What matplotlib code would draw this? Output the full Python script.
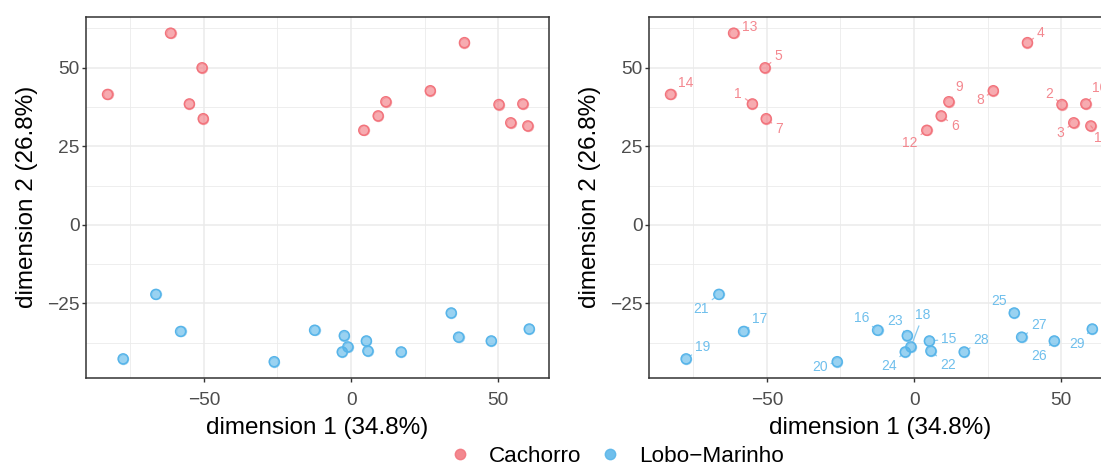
import matplotlib.pyplot as plt
from matplotlib.ticker import MultipleLocator
from matplotlib.lines import Line2D

plt.rcParams['font.family'] = ['Liberation Sans', 'DejaVu Sans']
plt.rcParams['axes.unicode_minus'] = True

# MDS coordinates, individuals 1-14 (Cachorro) and 15-29 (Lobo-Marinho)
ids_cachorro = [1, 2, 3, 4, 5, 6, 7, 8, 9, 10, 11, 12, 13, 14]
dim1_cachorro = [-54.9, 50.2, 54.2, 38.5, -50.6, 9.2, -50.2, 26.9, 11.8, 58.3, 60.0, 4.3, -61.3, -82.7]
dim2_cachorro = [38.5, 38.3, 32.5, 58.0, 50.0, 34.7, 33.8, 42.7, 39.2, 38.5, 31.5, 30.1, 61.0, 41.5]

ids_lobo = [15, 16, 17, 18, 19, 20, 21, 22, 23, 24, 25, 26, 27, 28, 29]
dim1_lobo = [5.2, -12.4, -57.9, -1.1, -77.4, -26.1, -66.3, 5.7, -2.3, -3.0, 34.0, 47.6, 36.5, 17.0, 60.5]
dim2_lobo = [-36.9, -33.5, -33.9, -38.8, -42.6, -43.5, -22.1, -40.1, -35.2, -40.4, -28.0, -36.9, -35.7, -40.4, -33.1]

# where each id label sits relative to its point (repel-style offsets)
label_offset = {
    1: (-4.8, 3.3), 2: (-4.3, 3.5), 3: (-4.4, -3.2), 4: (4.5, 3.0), 5: (4.4, 3.7),
    6: (4.6, -3.2), 7: (4.3, -3.2), 8: (-4.5, -3.1), 9: (3.5, 4.6), 10: (4.8, 5.0),
    11: (3.5, -4.0), 12: (-5.7, -4.0), 13: (5.5, 1.9), 14: (5.1, 3.7),
    15: (6.6, 0.5), 16: (-5.5, 3.8), 17: (5.5, 4.0), 18: (4.1, 10.0), 19: (5.6, 3.7),
    20: (-5.9, -1.8), 21: (-6.0, -4.5), 22: (5.7, -4.6), 23: (-4.3, 4.7), 24: (-5.6, -4.6),
    25: (-5.3, 3.8), 26: (-5.3, -4.7), 27: (5.8, 3.9), 28: (5.8, 3.7), 29: (-5.3, -4.7),
}

groups = ['Cachorro', 'Lobo\u2212Marinho']
colors = ['#F2737C', '#56B4E9']

W, H = 1101, 466
fig = plt.figure(figsize=(W / 100, H / 100), dpi=100)
ax1 = fig.add_axes([86 / W, 88 / H, 463 / W, 361.5 / H])
ax2 = fig.add_axes([649 / W, 88 / H, 463 / W, 361.5 / H])

series = [
    (ids_cachorro, dim1_cachorro, dim2_cachorro, colors[0]),
    (ids_lobo, dim1_lobo, dim2_lobo, colors[1]),
]

for ax in (ax1, ax2):
    for ids, xs, ys, col in series:
        ax.scatter(xs, ys, s=52, facecolor=col, edgecolor=col, alpha=0.6,
                   linewidth=1.0, zorder=3)
        ax.scatter(xs, ys, s=52, facecolor='none', edgecolor=col,
                   linewidth=1.0, zorder=4)
    ax.set_xlim(-90, 67.2)
    ax.set_ylim(-48.7, 66.3)
    ax.xaxis.set_major_locator(MultipleLocator(50))
    ax.xaxis.set_minor_locator(MultipleLocator(25))
    ax.yaxis.set_major_locator(MultipleLocator(25))
    ax.yaxis.set_minor_locator(MultipleLocator(12.5))
    ax.grid(which='major', color='#EBEBEB', linewidth=1.1, zorder=0)
    ax.grid(which='minor', color='#EBEBEB', linewidth=0.6, zorder=0)
    ax.set_axisbelow(True)
    ax.tick_params(which='major', length=3, width=1.0, color='#333333',
                   labelsize=13.8, labelcolor='#4D4D4D')
    ax.tick_params(axis='x', which='major', pad=7)
    ax.tick_params(axis='y', which='major', pad=1.5)
    ax.tick_params(which='minor', length=0)
    for sp in ax.spines.values():
        sp.set_color('#333333')
        sp.set_linewidth(1.1)
    ax.set_xlabel('dimension 1 (34.8%)', fontsize=17.5, labelpad=6)
    ax.set_ylabel('dimension 2 (26.8%)', fontsize=17.5, labelpad=7)

# id labels with short leader segments on the right panel
for ids, xs, ys, col in series:
    for i, x, y in zip(ids, xs, ys):
        dx, dy = label_offset[i]
        ax2.annotate(str(i), xy=(x, y), xytext=(x + dx, y + dy),
                     fontsize=10, color=col, alpha=0.85, ha='center', va='center',
                     arrowprops=dict(arrowstyle='-', color=col, alpha=0.7, lw=0.9,
                                     shrinkA=0.5, shrinkB=3.5),
                     zorder=5)

handles = [Line2D([], [], marker='o', linestyle='none', markersize=7.5,
                  markerfacecolor=c, markeredgecolor=c, alpha=0.85) for c in colors]
fig.legend(handles, groups, loc='center', bbox_to_anchor=(616 / W, 10 / H),
           ncol=2, frameon=False, fontsize=16.2, handletextpad=0.8,
           columnspacing=0.75, handlelength=1.0)

fig.savefig('out.png', dpi=100)
